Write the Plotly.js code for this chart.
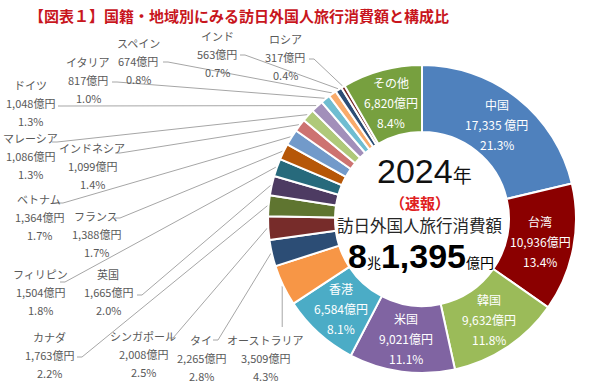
<!DOCTYPE html>
<html>
<head>
<meta charset="utf-8">
<script src="https://cdn.plot.ly/plotly-3.0.1.min.js"></script>
<style>
  html, body { margin: 0; padding: 0; background: #ffffff; }
  #chart { width: 600px; height: 384px; }
</style>
</head>
<body>
<div id="chart"></div>
<script>
// ---- data ----
const categories = ['中国','台湾','韓国','米国','香港','オーストラリア','タイ','シンガポール','カナダ','英国','フィリピン','フランス','ベトナム','インドネシア','マレーシア','ドイツ','イタリア','スペイン','インド','ロシア','その他'];
const values = [17335,10936,9632,9021,6584,3509,2265,2008,1763,1665,1504,1388,1364,1099,1086,1048,817,674,563,317,6820];
const shares = [21.3,13.4,11.8,11.1,8.1,4.3,2.8,2.5,2.2,2.0,1.8,1.7,1.7,1.4,1.3,1.3,1.0,0.8,0.7,0.4,8.4];
const titleText = '【図表１】国籍・地域別にみる訪日外国人旅行消費額と構成比';
const yearText = '2024';
const totalCho = '8';
const totalOku = '1,395';

// ---- styles ----
const colors = ['#4F81BD','#8B0000','#9BBB59','#8064A2','#4BACC6','#F79646',
                '#2C4D75','#772C2A','#5F7530','#4D3B62','#276A7C','#B65708',
                '#729ACA','#CD7371','#AFC97A','#A28FBA','#6FBDD1','#F9AB6B',
                '#2C4D75','#772C2A','#77A03F'];
const insideNames = ['中国','台湾','韓国','米国','香港','その他'];
// outside label layout (pixel positions of the label text and of the leader-line start)
const outside = {
  'ロシア':        {x:285, y:39,  lx:309, ly:59,  tick:true},
  'インド':        {x:217, y:36,  lx:240, ly:55,  tick:true},
  'スペイン':      {x:138, y:43,  lx:163, ly:62,  tick:true},
  'イタリア':      {x:88,  y:62,  lx:112, ly:82,  tick:true},
  'ドイツ':        {x:30,  y:85,  lx:58,  ly:106, tick:true},
  'マレーシア':    {x:30,  y:138, lx:52,  ly:142, tick:true},
  'インドネシア':  {x:92,  y:148, lx:115, ly:153, tick:true},
  'ベトナム':      {x:39,  y:199, lx:58,  ly:203, tick:true},
  'フランス':      {x:96,  y:216, lx:115, ly:218, tick:true},
  'フィリピン':    {x:40,  y:274, lx:60,  ly:282, tick:true},
  '英国':          {x:108, y:274, lx:137, ly:295, tick:true},
  'カナダ':        {x:49,  y:337, lx:77,  ly:357, tick:true},
  'シンガポール':  {x:143, y:336, lx:168, ly:338, tick:true},
  'タイ':          {x:201, y:340, lx:213, ly:340, tick:true},
  'オーストラリア':{x:265, y:340, lx:null, ly:327, tick:false}
};

const W = 600, H = 384;
const CX = 422, CY = 219, R = 154, HOLE = 0.565;
const px = x => x / W;
const py = y => 1 - y / H;

const total = values.reduce((a, b) => a + b, 0);
let cum = 0;
const mids = values.map(v => { const m = (cum + v / 2) / total; cum += v; return m; });
const pointAt = (i, r) => {
  const t = 2 * Math.PI * mids[i];
  return [CX + r * Math.sin(t), CY - r * Math.cos(t)];
};
const fmt = v => v.toLocaleString('en-US');

const FONT = '"Noto Sans CJK JP", "Noto Sans", sans-serif';
const NUMFONT = '"Liberation Sans", Arial, sans-serif';
const annotations = [];
const shapes = [];

function addText(x, y, text, size, color, opts, family) {
  annotations.push(Object.assign({
    xref: 'paper', yref: 'paper', x: px(x), y: py(y), text: text,
    showarrow: false, xanchor: 'center', yanchor: 'middle', borderpad: 0,
    font: {family: family || FONT, size: size, color: color}
  }, opts || {}));
}

categories.forEach((name, i) => {
  const valTxt = fmt(values[i]) + (i === 0 ? ' 億円' : '億円');
  const pctTxt = shares[i].toFixed(1) + '%';
  if (insideNames.includes(name)) {
    const [x, y] = pointAt(i, (R * (1 + HOLE)) / 2);
    addText(x, y - 20, name, 12, '#ffffff');
    addText(x, y, valTxt, 12, '#ffffff');
    addText(x, y + 20, pctTxt, 12, '#ffffff');
  } else {
    const o = outside[name];
    addText(o.x, o.y, name, 11, '#595959');
    addText(o.x, o.y + 18, valTxt, 11, '#595959');
    addText(o.x, o.y + 36, pctTxt, 11, '#595959');
    const [ex, ey] = pointAt(i, R + 1);
    let path;
    if (o.lx === null) {
      path = `M ${px(ex)},${py(o.ly)} L ${px(ex)},${py(ey)}`;
    } else if (o.tick) {
      path = `M ${px(o.lx)},${py(o.ly)} L ${px(o.lx + 5)},${py(o.ly)} L ${px(ex)},${py(ey)}`;
    } else {
      path = `M ${px(o.lx)},${py(o.ly)} L ${px(ex)},${py(ey)}`;
    }
    shapes.push({type: 'path', xref: 'paper', yref: 'paper', path: path,
                 line: {color: '#A6A6A6', width: 1}, layer: 'below'});
  }
});

const CJKSPAN = (s, size) => `<span style="font-size:${size}px;font-family:'Noto Sans CJK JP'">${s}</span>`;

// title
addText(28, 15, '<b>' + titleText + '</b>', 15, '#C8161D', {xanchor: 'left'});
// centre text
addText(424, 171, yearText + CJKSPAN('年', 19), 34, '#111111', {}, NUMFONT);
addText(420, 202, '<b>（速報）</b>', 15, '#E0201E');
addText(420, 225, '訪日外国人旅行消費額', 16.5, '#262626');
addText(421, 256, '<b>' + totalCho + '</b>' + CJKSPAN('兆', 14) + '<b>' + totalOku + '</b>' + CJKSPAN('億円', 14), 34, '#000000', {}, NUMFONT);

const trace = {
  type: 'pie',
  labels: categories,
  values: values,
  sort: false,
  direction: 'clockwise',
  rotation: 0,
  hole: HOLE,
  textinfo: 'none',
  hoverinfo: 'skip',
  marker: {colors: colors, line: {color: '#ffffff', width: 2}},
  domain: {x: [px(CX - R), px(CX + R)], y: [py(CY + R), py(CY - R)]}
};

const layout = {
  width: W, height: H,
  margin: {l: 0, r: 0, t: 0, b: 0},
  paper_bgcolor: '#ffffff',
  showlegend: false,
  annotations: annotations,
  shapes: shapes
};

Plotly.newPlot('chart', [trace], layout, {staticPlot: true, displayModeBar: false});
</script>
</body>
</html>
